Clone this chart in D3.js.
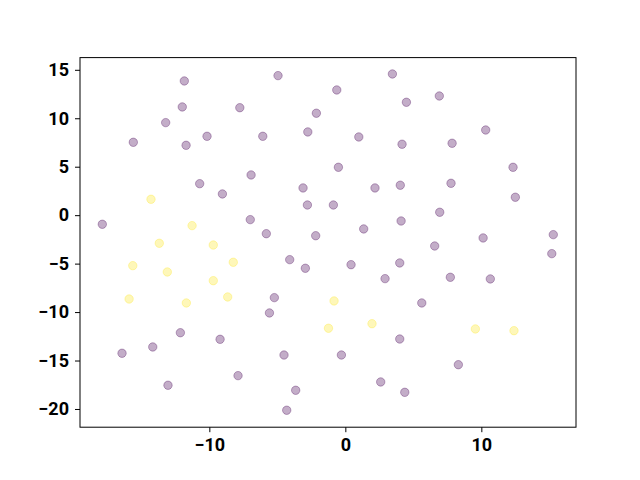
<!DOCTYPE html>
<html>
<head>
<meta charset="utf-8">
<script src="https://cdn.jsdelivr.net/npm/d3@7"></script>
<style>
  body { margin: 0; background: #fff; }
  .tick text { font-family: Roboto, "Liberation Sans", sans-serif; font-weight: bold; font-size: 18px; fill: #000; }
</style>
</head>
<body>
<svg id="chart" width="640" height="480"></svg>
<script>
// class 0 points (purple)
const purpleX = [-11.84, -4.95, 3.46, -0.63, 6.91, -11.99, -7.76, -2.13, 4.49, 10.32, -13.21, -2.76, -15.59, -10.17, -11.71, -6.07, 0.99, 4.17, 7.85, -6.93, -0.51, 12.33, -10.71, -9.04, -3.11, 2.18, 4.04, 7.77, 12.50, -2.79, -0.88, -17.87, -6.99, -5.81, -2.18, 6.94, 4.10, 1.35, 10.13, 15.29, 6.57, -4.09, -2.94, 0.42, 4.00, 15.18, -5.22, -5.58, 2.92, 7.72, 10.66, 5.62, -12.13, -9.21, -14.16, -16.42, -4.51, 4.00, -0.29, 8.31, -7.89, -13.04, -3.65, -4.31, 2.60, 4.37];
const purpleY = [13.85, 14.40, 14.57, 12.92, 12.30, 11.17, 11.09, 10.52, 11.65, 8.79, 9.55, 8.59, 7.52, 8.14, 7.21, 8.14, 8.07, 7.32, 7.42, 4.15, 4.94, 4.94, 3.25, 2.19, 2.81, 2.81, 3.09, 3.29, 1.85, 1.05, 1.05, -0.94, -0.46, -1.91, -2.12, 0.30, -0.60, -1.42, -2.35, -2.01, -3.18, -4.59, -5.48, -5.11, -4.93, -3.97, -8.51, -10.09, -6.55, -6.41, -6.58, -9.06, -12.13, -12.81, -13.60, -14.25, -14.43, -12.78, -14.43, -15.43, -16.56, -17.55, -18.07, -20.13, -17.21, -18.28];

// class 1 points (yellow)
const yellowX = [-14.29, -11.27, -13.68, -9.71, -15.63, -13.09, -8.24, -9.71, -15.90, -11.69, -8.65, -0.83, -1.24, 1.96, 9.56, 12.40];
const yellowY = [1.64, -1.08, -2.90, -3.08, -5.21, -5.86, -4.86, -6.76, -8.65, -9.06, -8.44, -8.85, -11.67, -11.20, -11.74, -11.92];

const xTicks = [-10, 0, 10];
const yTicks = [-20, -15, -10, -5, 0, 5, 10, 15];

const margin = {left: 80, right: 576, top: 57.6, bottom: 427.2};

let svg = d3.select("#chart");

let x = d3.scaleLinear().domain([-19.51, 16.96]).range([margin.left, margin.right]);
let y = d3.scaleLinear().domain([-21.88, 16.26]).range([margin.bottom, margin.top]);

const pts = purpleX.map((v, i) => ({x: v, y: purpleY[i], c: "#440154"}))
    .concat(yellowX.map((v, i) => ({x: v, y: yellowY[i], c: "#fde725"})));

svg.selectAll("circle")
    .data(pts)
    .enter()
    .append("circle")
    .attr("cx", d => x(d.x))
    .attr("cy", d => y(d.y))
    .attr("r", 4.2)
    .attr("fill", d => d.c)
    .attr("fill-opacity", 0.32)
    .attr("stroke", d => d.c)
    .attr("stroke-opacity", 0.32)
    .attr("stroke-width", 1);

let xAxis = svg.append("g")
    .attr("transform", "translate(0," + margin.bottom + ")")
    .call(d3.axisBottom(x).tickValues(xTicks).tickSize(5).tickPadding(6)
        .tickFormat(d => d < 0 ? "\u2212" + Math.abs(d) : d));

let yAxis = svg.append("g")
    .attr("transform", "translate(" + margin.left + ",0)")
    .call(d3.axisLeft(y).tickValues(yTicks).tickSize(5).tickPadding(6)
        .tickFormat(d => d < 0 ? "\u2212" + Math.abs(d) : d));

[xAxis, yAxis].forEach(a => {
    a.select(".domain").remove();
    a.selectAll(".tick line").attr("stroke", "#000").attr("stroke-width", 1);
});

svg.append("rect")
    .attr("x", margin.left)
    .attr("y", margin.top)
    .attr("width", margin.right - margin.left)
    .attr("height", margin.bottom - margin.top)
    .attr("fill", "none")
    .attr("stroke", "#000")
    .attr("stroke-width", 1);
</script>
</body>
</html>
